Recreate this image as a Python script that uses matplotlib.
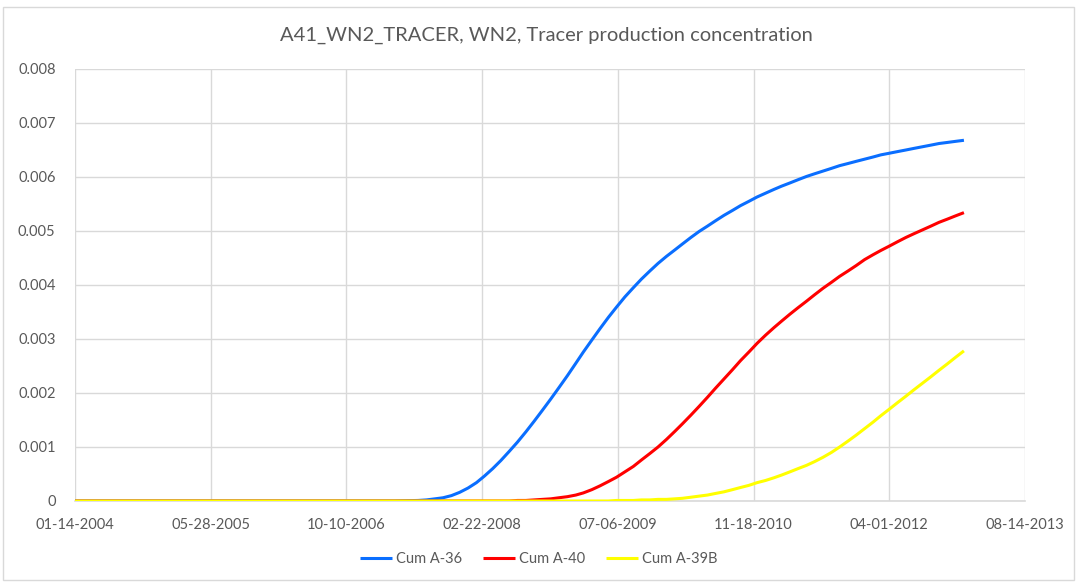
import matplotlib
matplotlib.use("Agg")
import matplotlib.pyplot as plt
from matplotlib.patches import Rectangle
import pandas as pd

plt.rcParams['font.family'] = ['Lato', 'DejaVu Sans']

title = "A41_WN2_TRACER, WN2, Tracer production concentration"

# dates: start, two early points, then monthly from 2007-07 to 2013-01
dates = (["2004-01-14", "2007-01-01", "2007-04-01"]
         + [d.strftime("%Y-%m-%d") for d in pd.date_range("2007-07-01", "2013-01-01", freq="MS")])

cum_a36 = [0.0, 0.0, 0.0,
           # 2007-07 .. 2007-12
           0.00001, 0.00002, 0.00004, 0.00006, 0.0001, 0.00016,
           # 2008
           0.00024, 0.00034, 0.00046, 0.0006, 0.00075, 0.00092,
           0.00109, 0.00128, 0.00148, 0.00168, 0.00189, 0.0021,
           # 2009
           0.00232, 0.00255, 0.00276, 0.00298, 0.00319, 0.0034,
           0.00359, 0.00378, 0.00395, 0.00411, 0.00426, 0.0044,
           # 2010
           0.00453, 0.00465, 0.00476, 0.00488, 0.00499, 0.00509,
           0.00519, 0.00529, 0.00538, 0.00547, 0.00555, 0.00563,
           # 2011
           0.0057, 0.00577, 0.00583, 0.00589, 0.00595, 0.00601,
           0.00606, 0.00611, 0.00616, 0.00621, 0.00625, 0.00629,
           # 2012
           0.00633, 0.00637, 0.00641, 0.00644, 0.00647, 0.0065,
           0.00653, 0.00656, 0.00659, 0.00662, 0.00664, 0.00666,
           # 2013-01
           0.00668]

cum_a40 = [0.0, 0.0, 0.0,
           0.0, 0.0, 0.0, 0.0, 0.0, 0.0,
           0.0, 0.0, 0.0, 0.0, 0.0, 0.0,
           0.00001, 0.00001, 0.00002, 0.00003, 0.00004, 0.00006,
           0.00008, 0.00011, 0.00015, 0.00021, 0.00028, 0.00036,
           0.00044, 0.00054, 0.00064, 0.00076, 0.00088, 0.001,
           0.00114, 0.00129, 0.00143, 0.00159, 0.00175, 0.00192,
           0.00209, 0.00226, 0.00243, 0.0026, 0.00276, 0.00292,
           0.00307, 0.00321, 0.00333, 0.00346, 0.00358, 0.0037,
           0.00382, 0.00394, 0.00405, 0.00416, 0.00426, 0.00436,
           0.00447, 0.00456, 0.00464, 0.00472, 0.0048, 0.00488,
           0.00495, 0.00502, 0.00509, 0.00516, 0.00522, 0.00528,
           0.00534]

cum_a39b = [0.0, 0.0, 0.0,
            0.0, 0.0, 0.0, 0.0, 0.0, 0.0,
            0.0, 0.0, 0.0, 0.0, 0.0, 0.0,
            0.0, 0.0, 0.0, 0.0, 0.0, 0.0,
            0.0, 0.0, 0.0, 0.0, 0.0, 0.0,
            0.00001, 0.00001, 0.00001, 0.00002, 0.00002, 0.00003,
            0.00003, 0.00004, 0.00005, 0.00007, 0.00009, 0.00011,
            0.00014, 0.00017, 0.00021, 0.00025, 0.00029, 0.00034,
            0.00038, 0.00043, 0.00048, 0.00054, 0.0006, 0.00066,
            0.00073, 0.00081, 0.0009, 0.001, 0.00111, 0.00122,
            0.00134, 0.00146, 0.00158, 0.0017, 0.00182, 0.00194,
            0.00206, 0.00218, 0.0023, 0.00242, 0.00254, 0.00266,
            0.00278]

series_names = ["Cum A-36", "Cum A-40", "Cum A-39B"]
series_colors = ["#0A6EFF", "#FF0000", "#FFFF00"]

x_start = "2004-01-14"
x_step_days = 500
n_ticks = 8
y_ticks = [0, 0.001, 0.002, 0.003, 0.004, 0.005, 0.006, 0.007, 0.008]
y_tick_labels = ["0", "0.001", "0.002", "0.003", "0.004", "0.005", "0.006", "0.007", "0.008"]

fig = plt.figure(figsize=(10.77, 5.83), dpi=100)
fig.patch.set_facecolor("white")
ax = fig.add_axes([75/1077, 1-501/583, (1025-75)/1077, (501-69)/583])

grid_c = "#D9D9D9"
text_c = "#595959"

x = pd.to_datetime(dates)
for v, name, col in zip([cum_a36, cum_a40, cum_a39b], series_names, series_colors):
    ax.plot(x, v, color=col, lw=2.2, label=name, solid_capstyle='butt',
            solid_joinstyle='round', zorder=3)

t0 = pd.Timestamp(x_start)
tick_dates = [t0 + pd.Timedelta(days=x_step_days*k) for k in range(n_ticks)]
ax.set_xlim(tick_dates[0], tick_dates[-1])
ax.set_xticks(tick_dates)
ax.set_xticklabels([t.strftime("%m-%d-%Y") for t in tick_dates])
ax.set_ylim(0, 0.008)
ax.set_yticks(y_ticks)
ax.set_yticklabels(y_tick_labels)

ax.grid(True, color=grid_c, lw=1.0, zorder=0)
for s in ["top", "right", "left"]:
    ax.spines[s].set_visible(False)
ax.spines["bottom"].set_color(grid_c)
ax.spines["bottom"].set_linewidth(1.2)
ax.tick_params(axis='both', length=0, labelsize=10.5, colors=text_c)
ax.tick_params(axis='y', pad=14)
ax.tick_params(axis='x', pad=12)
ax.set_axisbelow(True)

fig.text(546/1077, 1-35/583, title, ha='center', va='center', fontsize=14.5, color=text_c)

leg = fig.legend(loc='center', bbox_to_anchor=(0.5, 1-559/583), ncol=3, frameon=False,
                 fontsize=10.5, handlelength=2.2, columnspacing=1.4, handletextpad=0.3)
for t in leg.get_texts():
    t.set_color(text_c)

fig.patches.append(Rectangle((3/1077, 3/583), 1071/1077, 573/583, transform=fig.transFigure,
                             fill=False, edgecolor="#D9D9D9", lw=1.0))

fig.savefig("out.png", dpi=100, facecolor="white")
